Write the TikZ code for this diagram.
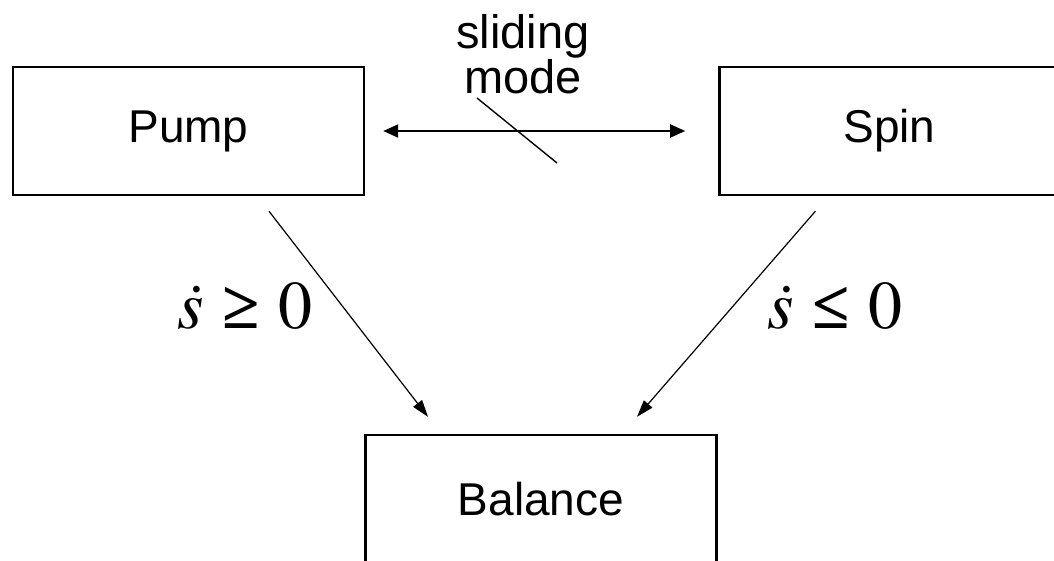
\documentclass[tikz,border=0pt]{standalone}
\usepackage{mathptmx}
\usepackage[no-math]{fontspec}
\setmainfont{Liberation Sans}
\newfontfamily\relfont{Liberation Serif}
\usetikzlibrary{arrows.meta, positioning, calc}
\tikzset{
  modebox/.style={
      draw=black,
      line width=2.4pt,
      rectangle,
      minimum width=351pt,
      minimum height=128pt,
      align=center,
      font=\fontsize{46}{41}\selectfont
  },
  cond/.style={
      inner sep=0pt,
      font=\fontsize{68}{70}\selectfont
  },
  arrow/.style={-{Triangle[length=17pt, width=11pt]}, line width=1.2pt},
  dblarrow/.style={{Triangle[length=15pt, width=13pt]}-{Triangle[length=15pt, width=13pt]}, line width=2pt}
}
\begin{document}
\begin{tikzpicture}[x=1pt, y=-1pt]
      \clip (0,0) rectangle (1054,560);
      % Basic boxes
      \node (pump) [modebox] at (188.5,131) {Pump};
      \node (spin) [modebox, minimum width=340pt, right=353pt of pump] {Spin};
      \node (balance) [modebox] at (541,499) {Balance};
      \node (slide) [align=center, inner sep=0pt, anchor=south, font=\fontsize{47}{41}\selectfont] at (523,94) {sliding\\mode};
      \coordinate (tick) at (557,163);

      % Connections
      \draw[dblarrow, shorten <=18pt, shorten >=33pt] (pump.east) -- (spin.west);
      \draw[line width=1.4pt] ($(slide.south)+(-46,4)$) -- (tick);
      \draw[arrow] ($(pump.south)+(80.5,15)$) -- ($(balance.north)+(-113,-17)$);
      \draw[arrow] ($(spin.south)+(-74,15)$) -- ($(balance.north)+(96,-17)$);

      % Switching conditions
      \node (up) [cond, anchor=base] at (245,328) {$\dot{s}\mkern5mu\mbox{\relfont\bfseries ≥}\mkern5mu 0$};
      \node (down) [cond, anchor=base] at (835,328) {$\dot{s}\mkern5mu\mbox{\relfont\bfseries ≤}\mkern5mu 0$};
    \end{tikzpicture}
\end{document}
